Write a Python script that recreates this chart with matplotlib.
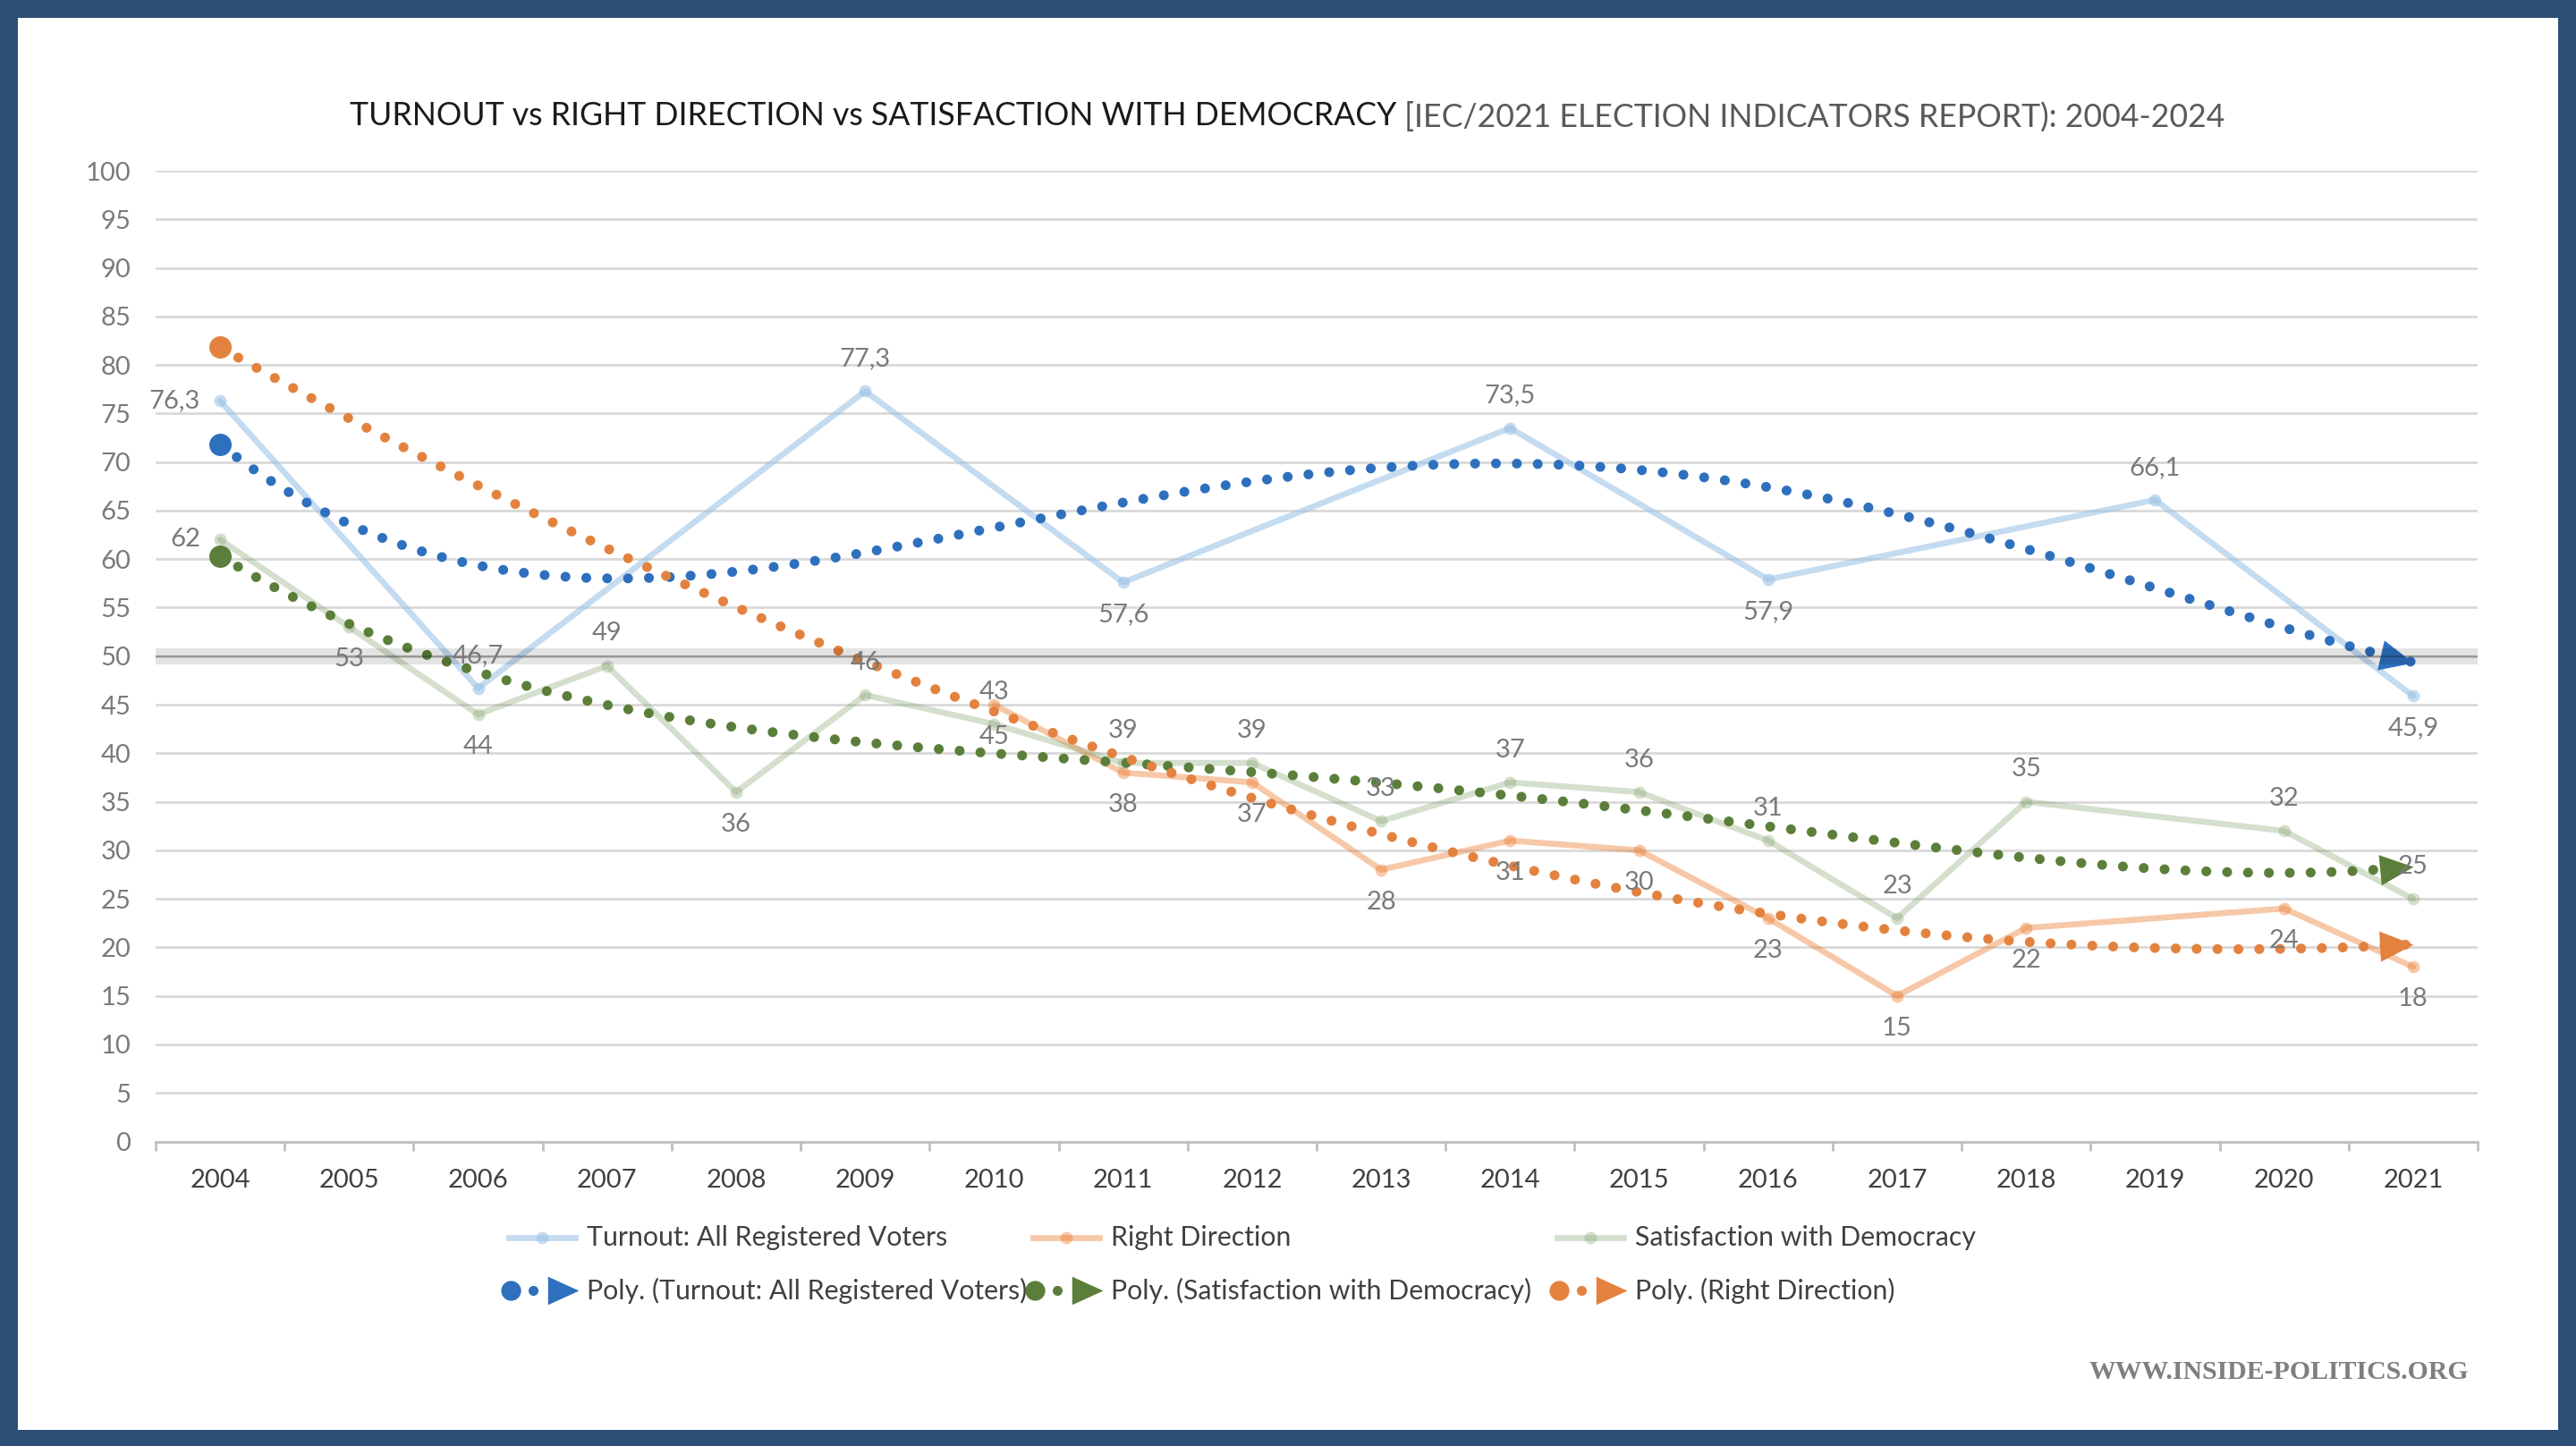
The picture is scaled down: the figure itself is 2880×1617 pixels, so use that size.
import numpy as np
import matplotlib
matplotlib.use('Agg')
import matplotlib.pyplot as plt
import matplotlib.patches as mpatches
from matplotlib.lines import Line2D
from matplotlib.markers import MarkerStyle
from matplotlib.path import Path
from matplotlib.transforms import Affine2D
from matplotlib import font_manager as fm

# ---------------- data ----------------
years = [str(y) for y in range(2004, 2022)]
turnout = [76.3, None, 46.7, None, None, 77.3, None, 57.6, None, None,
           73.5, None, 57.9, None, None, 66.1, None, 45.9]
right_direction = [None, None, None, None, None, None, 45, 38, 37, 28,
                   31, 30, 23, 15, 22, None, 24, 18]
satisfaction = [62, 53, 44, 49, 36, 46, 43, 39, 39, 33,
                37, 36, 31, 23, 35, None, 32, 25]
series_names = ["Turnout: All Registered Voters", "Right Direction",
                "Satisfaction with Democracy"]
trend_names = ["Poly. (Turnout: All Registered Voters)",
               "Poly. (Satisfaction with Democracy)",
               "Poly. (Right Direction)"]
title_main = "TURNOUT vs RIGHT DIRECTION vs SATISFACTION WITH DEMOCRACY"
title_sub = " [IEC/2021 ELECTION INDICATORS REPORT): 2004-2024"
watermark = "WWW.INSIDE-POLITICS.ORG"

# label placement (style)
turnout_pos = {0: 'left', 2: 'above', 5: 'above', 7: 'below', 10: 'above',
               12: 'below', 15: 'above', 17: 'below'}
sat_pos = {0: 'left', 1: 'below', 2: 'below', 3: 'above', 4: 'below', 5: 'above'}
rd_pos = {}


def has_font(name):
    try:
        fm.findfont(fm.FontProperties(family=name), fallback_to_default=False)
        return True
    except Exception:
        return False


base_font = 'Lato' if has_font('Lato') else 'DejaVu Sans'
title_font = 'Liberation Sans Narrow' if has_font('Liberation Sans Narrow') else base_font
serif_font = 'Liberation Serif' if has_font('Liberation Serif') else 'DejaVu Serif'
plt.rcParams['font.family'] = [base_font, 'DejaVu Sans']

W, H = 2880, 1617
fig = plt.figure(figsize=(W / 200, H / 200), dpi=200)
fig.patch.set_facecolor('#2C5077')
fig.add_artist(mpatches.Rectangle((20 / W, 18 / H), (W - 40) / W, (H - 38) / H,
                                  transform=fig.transFigure, facecolor='white',
                                  edgecolor='none', zorder=-5))

ax_l, ax_r, ax_t, ax_b = 174, 2770, 191, 1276.5
ax = fig.add_axes([ax_l / W, 1 - ax_b / H, (ax_r - ax_l) / W, (ax_b - ax_t) / H])
ax.patch.set_alpha(0)

x = np.arange(len(years))
ax.set_xlim(-0.5, len(years) - 0.5)
ax.set_ylim(0, 100)

# axes styling
for s in ['left', 'right', 'top']:
    ax.spines[s].set_visible(False)
ax.spines['bottom'].set_color('#BFBFBF')
ax.spines['bottom'].set_linewidth(1.0)
ax.set_yticks(range(0, 101, 5))
ax.yaxis.grid(True, color='#D9D9D9', lw=1.0)
ax.set_axisbelow(True)
ax.tick_params(axis='y', length=0, pad=10, labelsize=10.5, labelcolor='#7A7A7A')
ax.set_xticks(x, labels=years)
ax.tick_params(axis='x', which='major', length=0, pad=11, labelsize=10.5,
               labelcolor='#404040')
ax.set_xticks(np.arange(-0.5, len(years), 1), minor=True)
ax.tick_params(axis='x', which='minor', length=3.5, width=1.0, color='#BFBFBF')

# 50 reference band (translucent, drawn over the trend lines)
ax.axhline(50, color='black', alpha=0.11, lw=6.5, zorder=4)
ax.axhline(50, color='black', alpha=0.22, lw=0.8, zorder=4.1)


def series_xy(vals):
    xs = np.array([i for i, v in enumerate(vals) if v is not None])
    ys = np.array([vals[i] for i in xs], float)
    return xs, ys


light = {'t': ('#9DC3E6', 0.6), 'r': ('#ED7D31', 0.42), 's': ('#7F9F6A', 0.33)}
dark = {'t': '#2E70BE', 'r': '#E3823F', 's': '#5B7F3A'}

for key, vals in [('t', turnout), ('r', right_direction), ('s', satisfaction)]:
    xs, ys = series_xy(vals)
    c, a = light[key]
    ax.plot(xs, ys, color=c, alpha=a, lw=2.4, zorder=2, solid_capstyle='round')
    ax.plot(xs, ys, 'o', color=c, alpha=a, ms=5, mew=0, zorder=2.1)

# trend lines (polynomial fits, as the Excel trendlines)
arrow_path = Path([(-1.1, -0.5), (0, 0), (-1.1, 0.5), (-1.1, -0.5)],
                  [Path.MOVETO, Path.LINETO, Path.LINETO, Path.CLOSEPOLY])
trend_specs = [('t', turnout, 4), ('s', satisfaction, 4), ('r', right_direction, 3)]
xx = np.linspace(0, len(years) - 1, 600)
for key, vals, order in trend_specs:
    xs, ys = series_xy(vals)
    p = np.polyfit(xs, ys, order)
    yy = np.polyval(p, xx)
    c = dark[key]
    ax.plot(xx, yy, color=c, lw=4, linestyle=(0, (0.001, 2.1)),
            dash_capstyle='round', zorder=3)
    ax.plot([xx[0]], [yy[0]], 'o', color=c, ms=9, mew=0, zorder=3.1)
    p1 = ax.transData.transform((xx[-2], yy[-2]))
    p2 = ax.transData.transform((xx[-1], yy[-1]))
    ang = np.degrees(np.arctan2(p2[1] - p1[1], p2[0] - p1[0]))
    mk = MarkerStyle(arrow_path, transform=Affine2D().rotate_deg(ang))
    ax.plot([xx[-1]], [yy[-1]], marker=mk, color=c, ms=27, mew=0,
            linestyle='none', zorder=3.2)

# data labels
lab_kw = dict(fontsize=10.5, color='#7A7A7A', zorder=5)


def fmt(v):
    return f"{v:g}".replace('.', ',')


for vals, pos, default in [(turnout, turnout_pos, 'above'),
                           (satisfaction, sat_pos, 'above'),
                           (right_direction, rd_pos, 'below')]:
    for i, v in enumerate(vals):
        if v is None:
            continue
        where = pos.get(i, default)
        if where == 'above':
            ax.annotate(fmt(v), (i, v), xytext=(0, 13), textcoords='offset points',
                        ha='center', va='center', **lab_kw)
        elif where == 'below':
            ax.annotate(fmt(v), (i, v), xytext=(0, -13), textcoords='offset points',
                        ha='center', va='center', **lab_kw)
        else:
            ax.annotate(fmt(v), (i, v), xytext=(-8, 0), textcoords='offset points',
                        ha='right', va='center', **lab_kw)

# ---------------- legend (manual, Excel-like grid) ----------------
row_y = [1 - 1384 / H, 1 - 1443 / H]
col_x = [655.7, 1241.6, 1827.5]
leg_kw = dict(fontsize=10.9, color='#404040', va='center', ha='left')
for j, key in enumerate(['t', 'r', 's']):
    c, a = light[key]
    tx = col_x[j]
    y = row_y[0]
    fig.add_artist(Line2D([(tx - 87) / W, (tx - 13) / W], [y, y], color=c, alpha=a,
                          lw=2.4, transform=fig.transFigure))
    fig.add_artist(Line2D([(tx - 50) / W], [y], marker='o', color=c, alpha=a, ms=5,
                          mew=0, transform=fig.transFigure))
    fig.text(tx / W, y, series_names[j], **leg_kw)

for j, key in enumerate(['t', 's', 'r']):
    c = dark[key]
    tx = col_x[j]
    y = row_y[1]
    fig.add_artist(Line2D([(tx - 85) / W], [y], marker='o', color=c, ms=8, mew=0,
                          transform=fig.transFigure))
    fig.add_artist(Line2D([(tx - 60) / W], [y], marker='o', color=c, ms=4, mew=0,
                          transform=fig.transFigure))
    fig.add_artist(Line2D([(tx - 9) / W], [y], marker=MarkerStyle(arrow_path), color=c,
                          ms=25, mew=0, transform=fig.transFigure))
    fig.text(tx / W, y, trend_names[j], **leg_kw)

# ---------------- title ----------------
ty = 1 - 130 / H
t1 = fig.text(0, ty, title_main, fontsize=13, color='#1A1A1A', va='center',
              ha='left', family=[title_font, 'DejaVu Sans'])
t2 = fig.text(0, ty, title_sub, fontsize=13, color='#595959', va='center',
              ha='left', family=[title_font, 'DejaVu Sans'])
r = fig.canvas.get_renderer()
w1 = t1.get_window_extent(r).width
w2 = t2.get_window_extent(r).width
scale = 2096 / (w1 + w2)
t1.set_fontsize(13 * scale)
t2.set_fontsize(13 * scale)
w1 = t1.get_window_extent(r).width
w2 = t2.get_window_extent(r).width
x0 = 1439 - (w1 + w2) / 2
t1.set_x(x0 / W)
t2.set_x((x0 + w1) / W)

# ---------------- watermark ----------------
wm = fig.text(2548 / W, 1 - 1534 / H, watermark, fontsize=10, color='#7F7F7F',
              fontweight='bold', ha='center', va='center',
              family=[serif_font, 'DejaVu Serif'])
ww = wm.get_window_extent(r).width
wm.set_fontsize(10 * 422 / ww)

fig.savefig('out.png', dpi=200, facecolor=fig.get_facecolor())
